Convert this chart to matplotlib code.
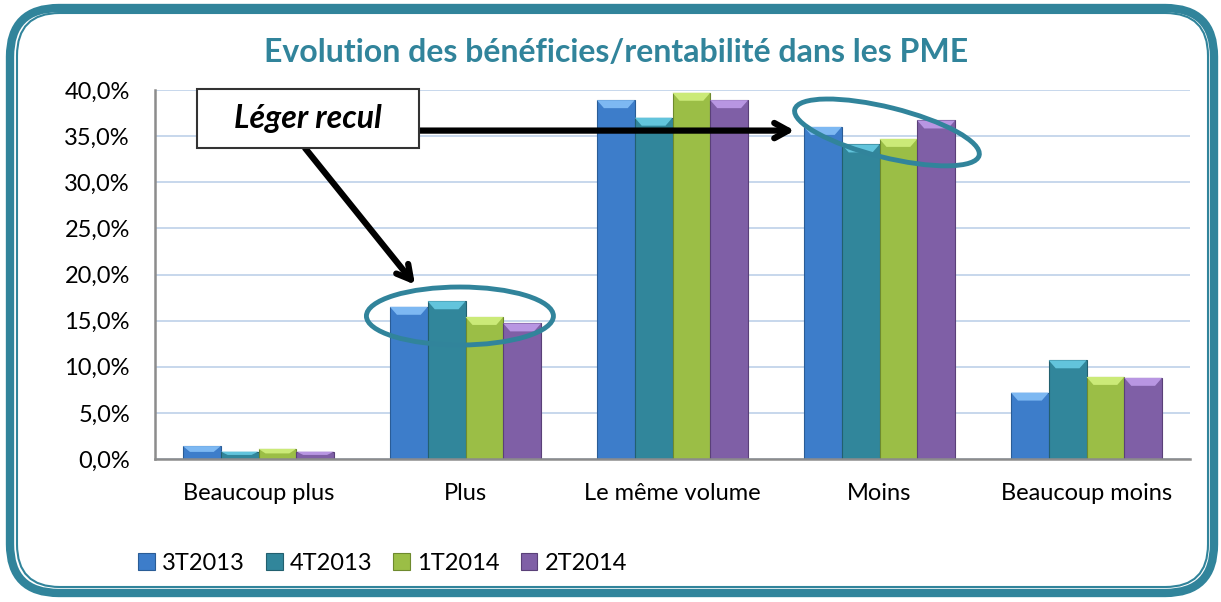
import matplotlib
matplotlib.use("Agg")
import matplotlib.pyplot as plt
from matplotlib.patches import FancyBboxPatch, Ellipse, Polygon, Rectangle
from matplotlib.ticker import FuncFormatter
from matplotlib.transforms import ScaledTranslation
import numpy as np

categories = ["Beaucoup plus", "Plus", "Le même volume", "Moins", "Beaucoup moins"]
series_names = ["3T2013", "4T2013", "1T2014", "2T2014"]
s_3T2013 = [1.4, 16.5, 38.9, 36.0, 7.2]
s_4T2013 = [0.8, 17.1, 37.0, 34.1, 10.7]
s_1T2014 = [1.1, 15.4, 39.7, 34.7, 8.9]
s_2T2014 = [0.8, 14.7, 38.9, 36.7, 8.8]
series = [s_3T2013, s_4T2013, s_1T2014, s_2T2014]

colors = ["#3D7DCA", "#31869B", "#9BBE46", "#7F5FA6"]
tops = ["#7DB8F2", "#62C4DC", "#CBEA78", "#B896E2"]
edges = ["#2A5C96", "#22606F", "#6E8A2E", "#5A4078"]
teal = "#31849B"

plt.rcParams['font.family'] = ['Lato', 'DejaVu Sans']

W, H = 1221, 602
fig = plt.figure(figsize=(W / 100, H / 100), dpi=100)

# rounded double border
fig.patches.append(FancyBboxPatch((10 / W, 9 / H), 1204 / W, 585 / H,
                                  boxstyle="round,pad=0,rounding_size=0.04",
                                  transform=fig.transFigure, fill=False,
                                  edgecolor=teal, linewidth=6, mutation_aspect=W / H))
fig.patches.append(FancyBboxPatch((17 / W, 15 / H), 1191 / W, 574 / H,
                                  boxstyle="round,pad=0,rounding_size=0.035",
                                  transform=fig.transFigure, fill=False,
                                  edgecolor=teal, linewidth=1.5, mutation_aspect=W / H))

ax = fig.add_axes([155 / W, 1 - 459 / H, (1190 - 155) / W, (459 - 90) / H])
ax.set_xlim(-0.5, len(categories) - 0.5)
ax.set_ylim(0, 40)

n = len(series)
bw = 1 / (n + 1.48)
x = np.arange(len(categories))
px_y = 40 / (459 - 90)
px_x = len(categories) / (1190 - 155)
for i, vals in enumerate(series):
    xs = x + (i - (n - 1) / 2) * bw
    ax.bar(xs, vals, width=bw, color=colors[i], edgecolor=edges[i], linewidth=0.8,
           zorder=3, label=series_names[i])
    for xc, v in zip(xs, vals):
        h = min(8 * px_y, v * 0.45)
        d = 7 * px_x
        x0, x1 = xc - bw / 2, xc + bw / 2
        ax.add_patch(Polygon([(x0, v), (x1, v), (x1 - d, v - h), (x0 + d, v - h)],
                             closed=True, facecolor=tops[i], edgecolor='none', zorder=4))

ax.yaxis.set_major_formatter(FuncFormatter(lambda v, p: f"{v:.1f}%".replace('.', ',')))
ax.set_yticks(np.arange(0, 41, 5))
ax.set_xticks(x)
ax.set_xticklabels(categories)
ax.tick_params(axis='both', length=0, labelsize=17, colors='black')
ax.tick_params(axis='x', pad=17)
ax.tick_params(axis='y', pad=18)
ax.grid(axis='y', color='#C3D4EA', linewidth=1.3, zorder=0)
ax.set_axisbelow(True)
for s in ['top', 'right']:
    ax.spines[s].set_visible(False)
for s in ['left', 'bottom']:
    ax.spines[s].set_color('#8C8C8C')
    ax.spines[s].set_linewidth(1.8)
    ax.spines[s].set_zorder(5)

fig.text(616 / W, 1 - 53 / H, "Evolution des bénéficies/rentabilité dans les PME",
         ha='center', va='center', fontsize=23, fontweight='bold', color=teal)

leg = fig.legend(loc='center left', bbox_to_anchor=(117 / W, 1 - 563 / H), ncol=4,
                 frameon=False, fontsize=17, handlelength=0.7, handleheight=0.7,
                 handletextpad=0.3, columnspacing=0.9)

# annotation ellipses, sized in inches, centred in data coordinates
ell_tr1 = fig.dpi_scale_trans + ScaledTranslation(0.973, 15.5, ax.transData)
ax.add_patch(Ellipse((0, 0), 1.87, 0.58, angle=0, fill=False, edgecolor=teal,
                     linewidth=3.5, zorder=6, clip_on=False, transform=ell_tr1))
ell_tr2 = fig.dpi_scale_trans + ScaledTranslation(3.036, 35.4, ax.transData)
ax.add_patch(Ellipse((0, 0), 1.90, 0.50, angle=-14, fill=False, edgecolor=teal,
                     linewidth=3.5, zorder=6, clip_on=False, transform=ell_tr2))

ax.annotate("", xy=(2.59, 35.6), xytext=(0.775, 35.6),
            arrowprops=dict(arrowstyle="->,head_length=1.0,head_width=0.55", lw=4.5,
                            color='black', shrinkA=0, shrinkB=0), zorder=7)
ax.annotate("", xy=(0.756, 18.9), xytext=(0.225, 33.7),
            arrowprops=dict(arrowstyle="->,head_length=1.0,head_width=0.55", lw=4.5,
                            color='black', shrinkA=0, shrinkB=0), zorder=7)
ax.add_patch(Rectangle((-0.297, 33.71), 1.072, 6.4, facecolor='white',
                       edgecolor='#333333', linewidth=1.5, zorder=8, clip_on=False))
ax.text(0.239, 36.9, "Léger recul", ha='center', va='center', fontsize=23,
        fontweight='bold', fontstyle='italic', color='black', zorder=9)

fig.savefig("out.png", dpi=100)
